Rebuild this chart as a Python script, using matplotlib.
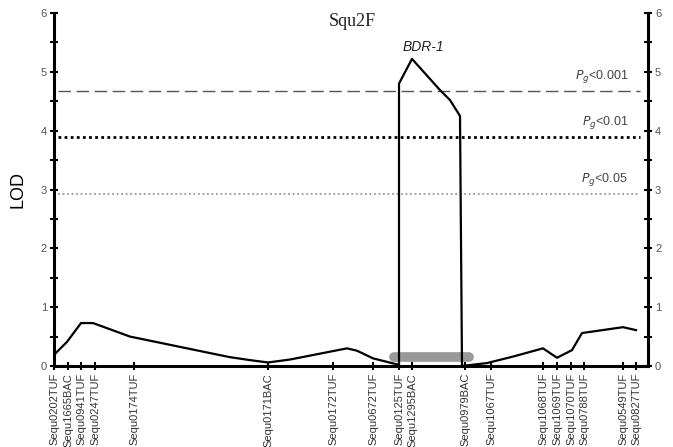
import matplotlib.pyplot as plt

# marker names and map positions
markers = ["Sequ0202TUF", "Sequ1665BAC", "Sequ0941TUF", "Sequ0247TUF", "Sequ0174TUF",
           "Sequ0171BAC", "Sequ0172TUF", "Sequ0672TUF", "Sequ0125TUF", "Sequ1295BAC",
           "Sequ0979BAC", "Sequ1067TUF", "Sequ1068TUF", "Sequ1069TUF", "Sequ1070TUF",
           "Sequ0788TUF", "Sequ0549TUF", "Sequ0827TUF"]
marker_pos = [0, 14, 27, 41, 80, 214, 279, 319, 345, 358, 411, 437, 489, 503, 517, 530, 569, 582]

# LOD profile
lod_x = [0, 13, 27, 39, 76, 116, 153, 176, 196, 214, 236, 263, 293, 303, 319, 333, 345,
         345, 358, 386, 396, 406, 408, 433, 459, 489, 503, 518, 528, 569, 582]
lod_y = [0.19, 0.41, 0.73, 0.73, 0.50, 0.36, 0.23, 0.15, 0.10, 0.06, 0.11, 0.20, 0.30,
         0.26, 0.13, 0.07, 0.02, 4.80, 5.22, 4.69, 4.52, 4.25, 0.0, 0.05, 0.16, 0.30,
         0.14, 0.27, 0.56, 0.66, 0.61]

thresholds = [4.68, 3.90, 2.93]
threshold_labels = ["0.001", "0.01", "0.05"]
bar_span = [340, 415]
bar_level = 0.16

plt.rcParams['font.family'] = ['Liberation Sans', 'DejaVu Sans']

fig = plt.figure(figsize=(6.73, 4.47), dpi=100)
ax = fig.add_axes([54 / 673, 81 / 447, 594 / 673, 353 / 447])
ax.set_xlim(0, 594)
ax.set_ylim(0, 6)

styles = [dict(color="#555555", linestyle=(0, (9, 4)), linewidth=1.0),
          dict(color="black", linestyle=(0, (1, 1.2)), linewidth=2.0),
          dict(color="#999999", linestyle=(0, (1, 1.5)), linewidth=1.3)]
for thr, lab, st in zip(thresholds, threshold_labels, styles):
    ax.plot([4, 586], [thr, thr], **st)
    ax.text(574, thr + 0.1, r"$P_g$<" + lab, ha="right", va="bottom",
            fontsize=9, color="#444444")

ax.plot(bar_span, [bar_level, bar_level], color="#999999", linewidth=7,
        solid_capstyle="round", zorder=2)
ax.plot(lod_x, lod_y, color="black", linewidth=1.6, zorder=3)

ax.text(298, 5.85, "Squ2F", family="Liberation Serif", fontsize=13,
        ha="center", va="center", color="#222222")
ax.text(369, 5.43, "BDR-1", fontsize=10, style="italic", ha="center",
        va="center", color="#222222")

ax.set_xticks(marker_pos)
ax.set_xticklabels(markers, rotation=90, fontsize=8, color="#333333")
ax.set_yticks([i * 0.5 for i in range(13)])
ax.set_yticklabels([str(i // 2) if i % 2 == 0 else "" for i in range(13)],
                   fontsize=8, color="#555555")
ax.tick_params(axis="both", direction="inout", length=6, width=1.5, pad=2)
ax.tick_params(axis="y", right=True, labelright=True)
ax.set_ylabel("LOD", fontsize=13, labelpad=10)

for side in ["top"]:
    ax.spines[side].set_visible(False)
for side in ["left", "right", "bottom"]:
    ax.spines[side].set_linewidth(2.2)

fig.savefig("out.png", dpi=100)
